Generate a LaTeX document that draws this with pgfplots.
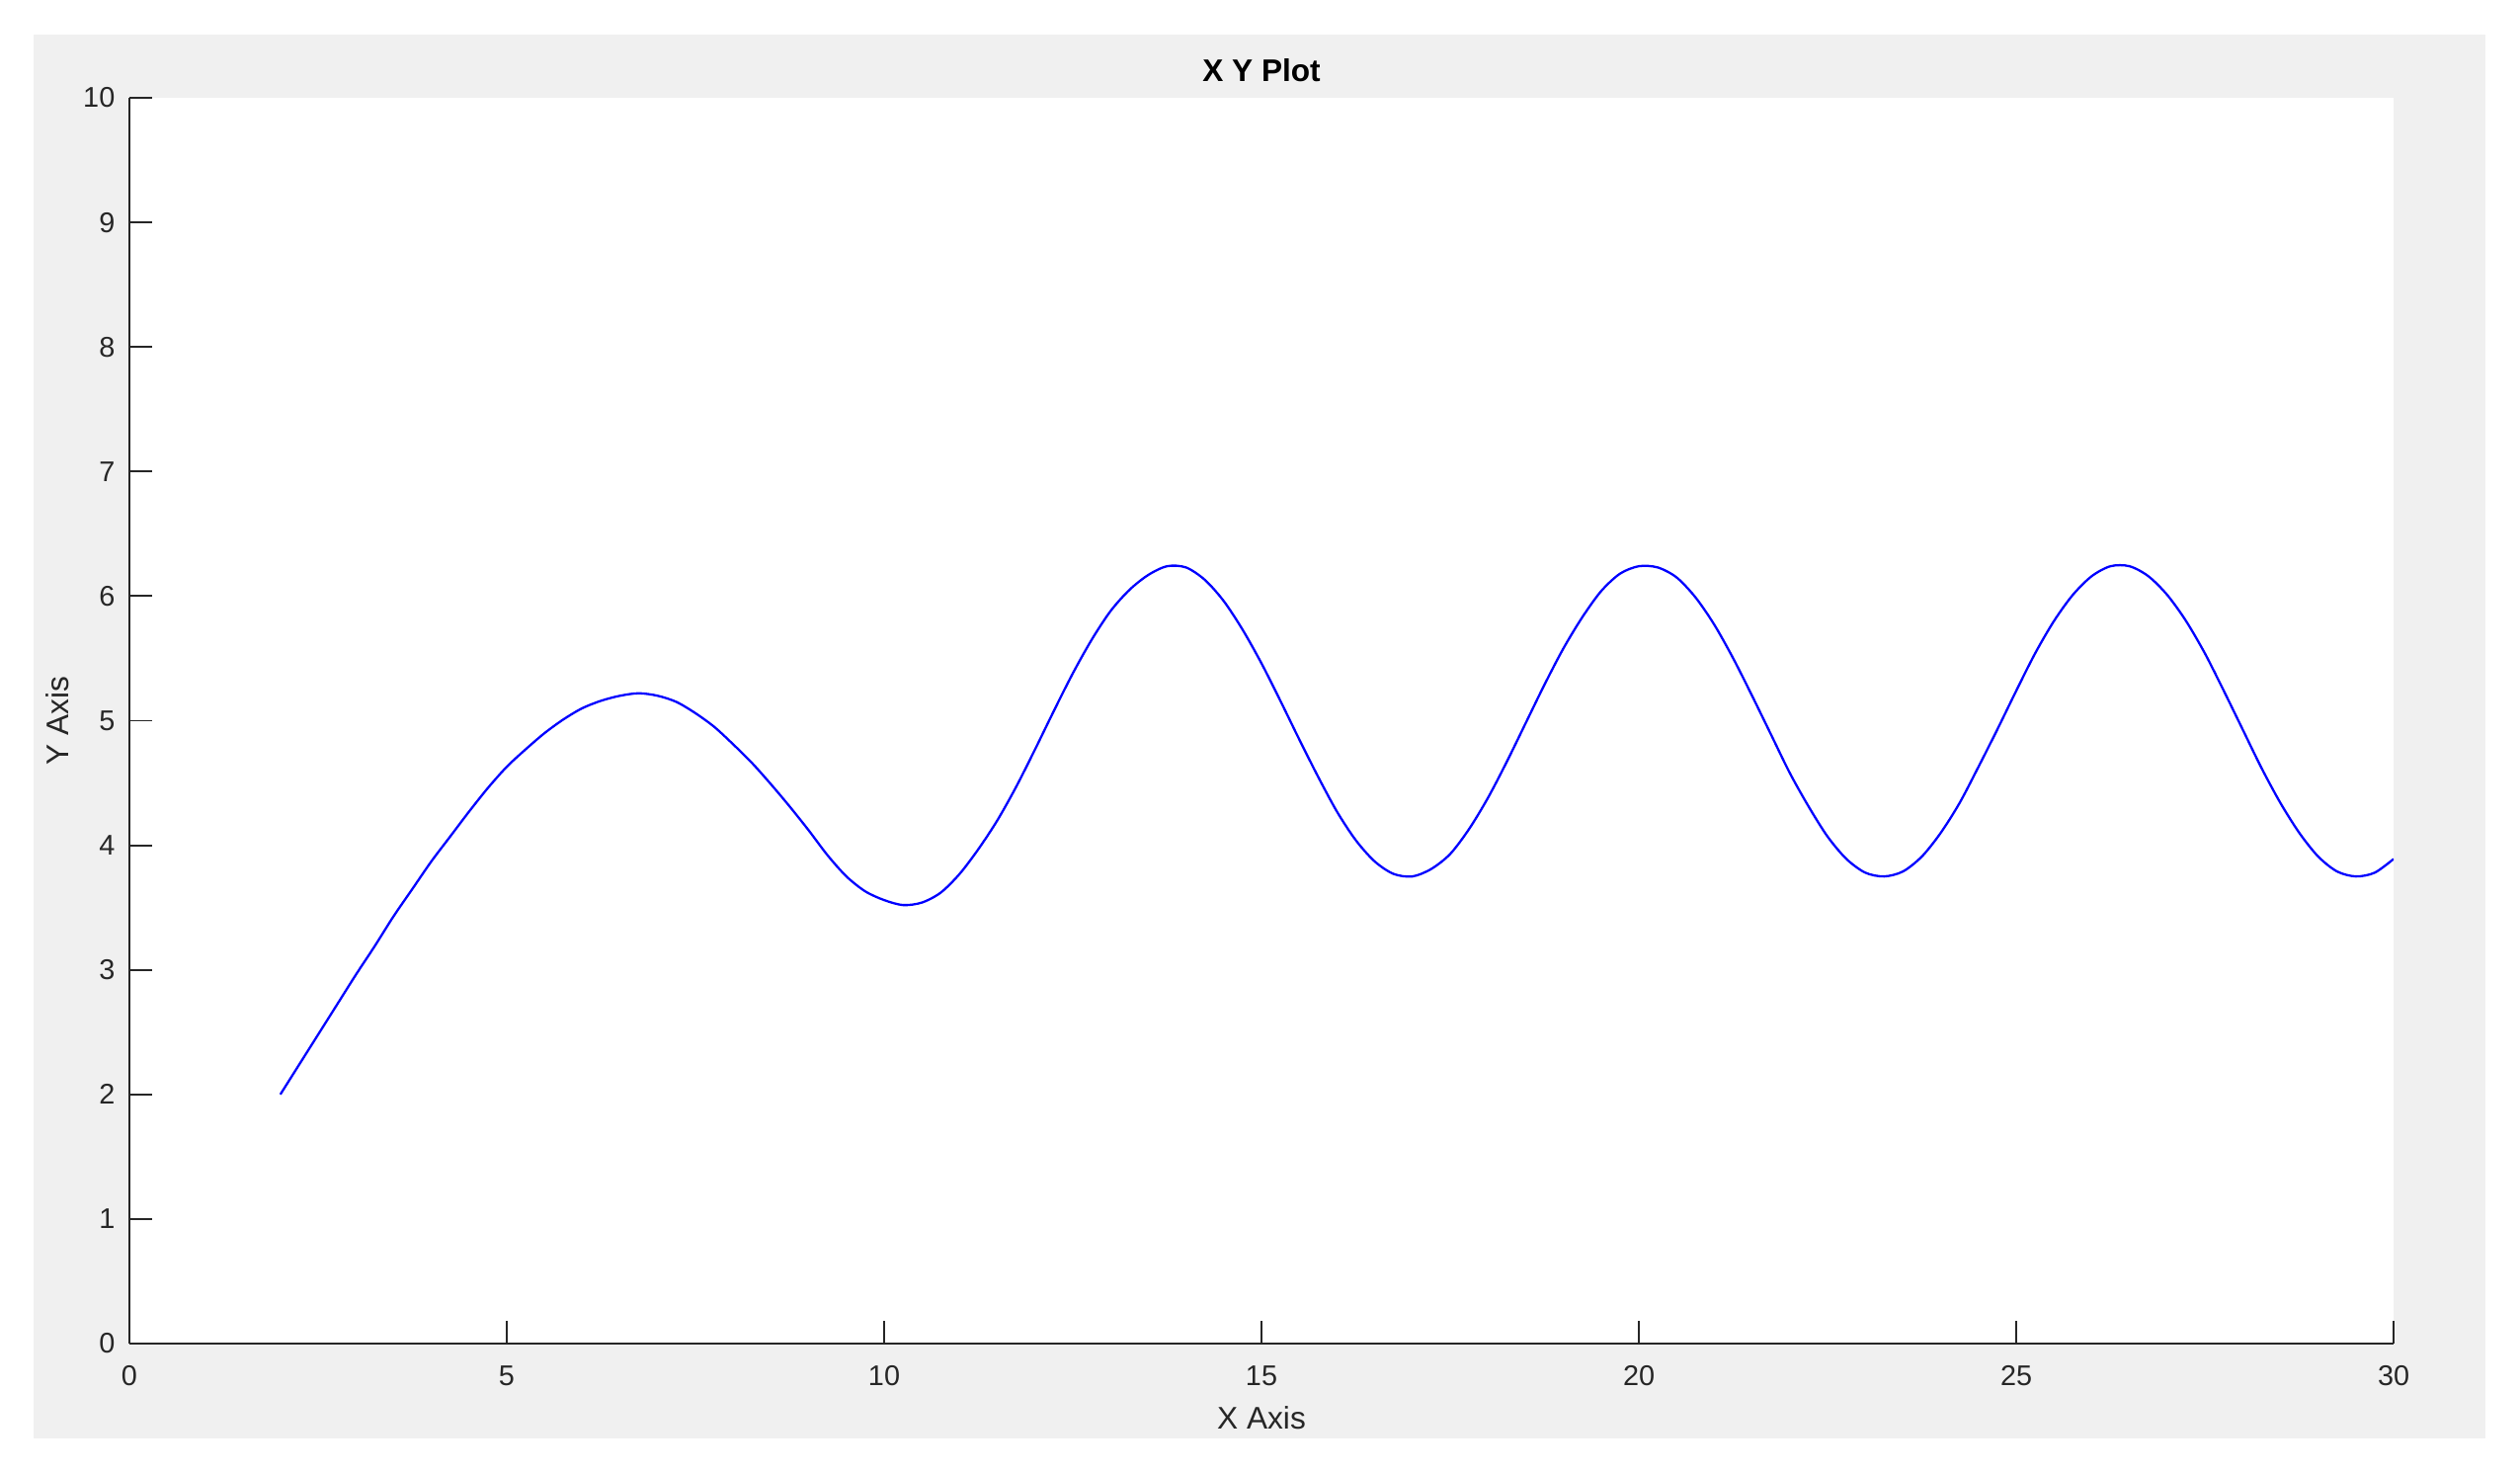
\documentclass[border=0pt]{standalone}
\usepackage{fontspec}
\setmainfont{Liberation Sans}
\usepackage{pgfplots}
\pgfplotsset{compat=1.18}
\definecolor{figgray}{RGB}{240,240,240}
\definecolor{axgray}{RGB}{38,38,38}

\begin{document}
\begin{tikzpicture}[x=1mm,y=1mm]
    % page and figure background (1 px = 0.1 mm)
    \fill[white] (-13.1,-13.0) rectangle (242.0,136.0);
    \fill[figgray] (-9.7,-9.6) rectangle (238.5,132.5);
    \begin{axis}[
        at={(0,0)}, anchor=south west,
        scale only axis,
        width=229.2mm, height=126.1mm,
        xmin=0, xmax=30, ymin=0, ymax=10,
        xtick={0,5,...,30}, ytick={0,1,...,10},
        axis x line*=bottom, axis y line*=left,
        axis background/.style={fill=white},
        axis line style={axgray, line width=0.55pt},
        tick align=inside,
        major tick length=2.3mm,
        tick style={axgray, line width=0.55pt},
        /pgf/number format/assume math mode=true,
        ticklabel style={font=\fontsize{8.2}{10}\selectfont, text=axgray, inner sep=0pt},
        xticklabel style={anchor=north, yshift=-2.2mm},
        yticklabel style={anchor=east, xshift=-1.4mm},
        title={X Y Plot},
        every axis title shift=0pt,
        title style={at={(axis description cs:0.5,1.0218)}, anchor=center,
            font=\fontsize{9}{11}\selectfont\bfseries, text=black},
        xlabel={X Axis},
        ylabel={Y Axis},
        xlabel style={at={(axis description cs:0.5,-0.0595)}, anchor=center,
            font=\fontsize{9}{11}\selectfont, text=axgray},
        ylabel style={at={(axis description cs:-0.0316,0.5)}, anchor=center,
            font=\fontsize{9}{11}\selectfont, text=axgray},
        ]
        \addplot[color=blue, line width=0.65pt, mark=none, smooth, tension=0.5] coordinates {
            (2.00,2.00) (2.25,2.24) (2.50,2.48) (2.75,2.72) (3.00,2.96)
            (3.25,3.19) (3.50,3.43) (3.75,3.65) (4.00,3.87) (4.25,4.07)
            (4.50,4.27) (4.75,4.46) (5.00,4.63) (5.25,4.77) (5.50,4.90)
            (5.75,5.01) (6.00,5.10) (6.25,5.16) (6.50,5.20) (6.75,5.22)
            (7.00,5.20) (7.25,5.15) (7.50,5.06) (7.75,4.95) (8.00,4.81)
            (8.25,4.66) (8.50,4.49) (8.75,4.31) (9.00,4.12) (9.25,3.92)
            (9.50,3.75) (9.75,3.63) (10.00,3.56) (10.25,3.52) (10.50,3.54)
            (10.75,3.62) (11.00,3.77) (11.25,3.97) (11.50,4.20) (11.75,4.47)
            (12.00,4.77) (12.25,5.08) (12.50,5.38) (12.75,5.65) (13.00,5.88)
            (13.25,6.05) (13.50,6.17) (13.75,6.24) (14.00,6.23) (14.25,6.13)
            (14.50,5.96) (14.75,5.73) (15.00,5.46) (15.25,5.16) (15.50,4.85)
            (15.75,4.55) (16.00,4.27) (16.25,4.04) (16.50,3.87) (16.75,3.77)
            (17.00,3.75) (17.25,3.81) (17.50,3.93) (17.75,4.13) (18.00,4.38)
            (18.25,4.67) (18.50,4.98) (18.75,5.29) (19.00,5.58) (19.25,5.83)
            (19.50,6.04) (19.75,6.18) (20.00,6.24) (20.25,6.23) (20.50,6.15)
            (20.75,5.99) (21.00,5.77) (21.25,5.50) (21.50,5.20) (21.75,4.89)
            (22.00,4.58) (22.25,4.31) (22.50,4.07) (22.75,3.89) (23.00,3.78)
            (23.25,3.75) (23.50,3.79) (23.75,3.91) (24.00,4.10) (24.25,4.34)
            (24.50,4.63) (24.75,4.93) (25.00,5.24) (25.25,5.54) (25.50,5.80)
            (25.75,6.01) (26.00,6.16) (26.25,6.24) (26.50,6.24) (26.75,6.16)
            (27.00,6.01) (27.25,5.80) (27.50,5.54) (27.75,5.24) (28.00,4.93)
            (28.25,4.62) (28.50,4.34) (28.75,4.10) (29.00,3.91) (29.25,3.79)
            (29.50,3.75) (29.75,3.78) (30.00,3.89)
        };
    \end{axis}
\end{tikzpicture}
\end{document}
